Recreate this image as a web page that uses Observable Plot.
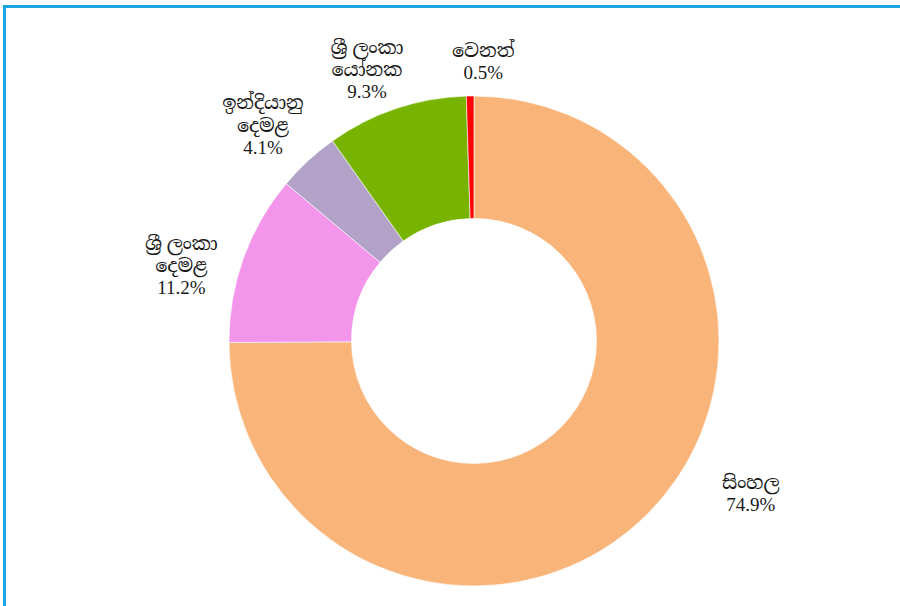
<!DOCTYPE html>
<html>
<head>
<meta charset="utf-8">
<script src="https://cdn.jsdelivr.net/npm/d3@7"></script>
<script src="https://cdn.jsdelivr.net/npm/@observablehq/plot@0.6"></script>
<style>
  html, body { margin: 0; padding: 0; background: #fff; overflow: hidden; }
  #wrap { position: relative; width: 900px; height: 606px; overflow: hidden; }
  #frame { position: absolute; left: 3px; top: 5px; width: 1000px; height: 1000px;
           border-top: 3px solid #1ba6e1; border-left: 3px solid #1ba6e1; pointer-events: none; }
  #chart { position: absolute; left: 0; top: 0; }
</style>
</head>
<body>
<div id="wrap">
  <div id="chart"></div>
  <div id="frame"></div>
</div>
<script>
// ---- data ----
const categories = ["සිංහල", "ශ්‍රී ලංකා\nදෙමළ", "ඉන්දියානු\nදෙමළ", "ශ්‍රී ලංකා\nයෝනක", "වෙනත්"];
const shares = [74.9, 11.2, 4.1, 9.3, 0.5];
const sliceColors = ["#f9b47a", "#f495ec", "#b3a2c8", "#78b300", "#ff0000"];

// ---- layout (label placement relative to slice mid-angle) ----
const labelAngleShift = [-16.1, -5.1, -1.6, -3.0, 2.7]; // degrees
const labelRadius = [1.286, 1.237, 1.237, 1.195, 1.145]; // in outer radii

const W = 900, H = 606, R = 245, CX = 474, CY = 341, INNER = 0.5;

const pie = d3.pie().sort(null).value(d => d.value).startAngle(0).endAngle(2 * Math.PI);
const table = categories.map((c, i) => ({category: c, value: shares[i], pct: shares[i].toFixed(1) + "%"}));
const arcs = pie(table);

const labels = arcs.map((a, i) => {
  const mid = (a.startAngle + a.endAngle) / 2 + labelAngleShift[i] * Math.PI / 180;
  const r = labelRadius[i];
  return {text: a.data.category + "\n" + a.data.pct, x: r * Math.sin(mid), y: r * Math.cos(mid)};
});

const color = Plot.scale({color: {type: "ordinal", domain: categories, range: sliceColors}});

function donut(index, scales, values, dimensions) {
  const sx = scales.x, sy = scales.y;
  const cx = sx(0), cy = sy(0);
  const rad = sx(1) - sx(0);
  const arcGen = d3.arc().innerRadius(rad * INNER).outerRadius(rad);
  const g = d3.create("svg:g").attr("transform", `translate(${cx},${cy})`);
  g.selectAll("path").data(arcs).join("path")
    .attr("d", arcGen)
    .attr("fill", d => color.apply(d.data.category))
    .attr("stroke", "#ffffff")
    .attr("stroke-width", 0.6);
  return g.node();
}

const chart = Plot.plot({
  width: W, height: H,
  margin: 0,
  x: {domain: [-CX / R, (W - CX) / R], axis: null},
  y: {domain: [-(H - CY) / R, CY / R], axis: null},
  marks: [
    donut,
    Plot.text(labels, {
      x: "x", y: "y", text: "text",
      fontSize: 19, lineHeight: 1.16,
      fill: "#1a1a1a",
      textAnchor: "middle", lineAnchor: "middle",
      fontFamily: "'Liberation Serif', 'Times New Roman', 'Noto Serif Sinhala', 'Noto Sans Sinhala', serif"
    })
  ]
});
document.getElementById("chart").appendChild(chart);
</script>
</body>
</html>
